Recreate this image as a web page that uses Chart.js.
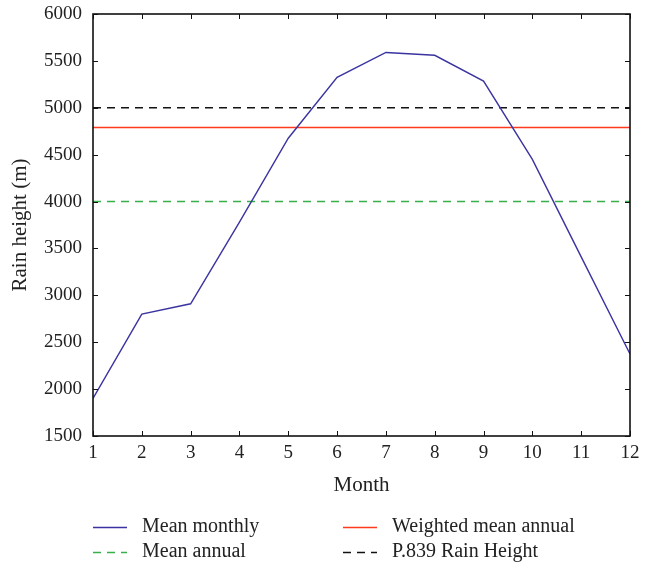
<!DOCTYPE html>
<html>
<head>
<meta charset="utf-8">
<script src="https://cdn.jsdelivr.net/npm/chart.js@4/dist/chart.umd.min.js"></script>
<style>
  html, body { margin: 0; padding: 0; background: #fff; }
  #wrap { width: 650px; height: 566px; position: relative; }
</style>
</head>
<body>
<div id="wrap"><canvas id="c" width="650" height="566"></canvas></div>
<script>
// Monthly rain height data
const months = [1, 2, 3, 4, 5, 6, 7, 8, 9, 10, 11, 12];
const meanMonthly = [1900, 2800, 2910, 3780, 4675, 5325, 5590, 5560, 5285, 4450, 3410, 2375];
const meanAnnual = [4000, 4000, 4000, 4000, 4000, 4000, 4000, 4000, 4000, 4000, 4000, 4000];
const weightedMeanAnnual = [4790, 4790, 4790, 4790, 4790, 4790, 4790, 4790, 4790, 4790, 4790, 4790];
const p839RainHeight = [5000, 5000, 5000, 5000, 5000, 5000, 5000, 5000, 5000, 5000, 5000, 5000];
const yTicks = [1500, 2000, 2500, 3000, 3500, 4000, 4500, 5000, 5500, 6000];
const seriesNames = ['Mean monthly', 'Weighted mean annual', 'Mean annual', 'P.839 Rain Height'];

const FONT = '"Liberation Serif", "DejaVu Serif", serif';
const toPts = (arr) => arr.map((v, i) => ({ x: months[i], y: v }));

// Box frame, inward ticks and two-column legend
const frame = {
  id: 'frame',
  afterDatasetsDraw(chart) {
    const { ctx, chartArea: a, scales: { x, y } } = chart;
    ctx.save();
    ctx.strokeStyle = '#111';
    ctx.lineWidth = 1.6;
    ctx.strokeRect(a.left, a.top, a.right - a.left, a.bottom - a.top);
    ctx.lineWidth = 1;
    const t = 5;
    ctx.beginPath();
    months.forEach(m => {
      const px = Math.round(x.getPixelForValue(m)) + 0.5;
      ctx.moveTo(px, a.bottom); ctx.lineTo(px, a.bottom - t);
      ctx.moveTo(px, a.top); ctx.lineTo(px, a.top + t);
    });
    yTicks.forEach(v => {
      const py = Math.round(y.getPixelForValue(v)) + 0.5;
      ctx.moveTo(a.left, py); ctx.lineTo(a.left + t, py);
      ctx.moveTo(a.right, py); ctx.lineTo(a.right - t, py);
    });
    ctx.stroke();
    ctx.restore();
  },
  afterDraw(chart) {
    const { ctx } = chart;
    const ds = chart.data.datasets;
    const spots = [
      { i: 0, x: 93, y: 527 },
      { i: 1, x: 343, y: 527 },
      { i: 2, x: 93, y: 552 },
      { i: 3, x: 343, y: 552 }
    ];
    ctx.save();
    ctx.font = '20px ' + FONT;
    ctx.textBaseline = 'middle';
    ctx.fillStyle = '#222';
    spots.forEach(s => {
      const d = ds[s.i];
      ctx.strokeStyle = d.borderColor;
      ctx.lineWidth = 1.5;
      ctx.setLineDash(d.borderDash || []);
      ctx.beginPath();
      ctx.moveTo(s.x, s.y + 0.5);
      ctx.lineTo(s.x + 34, s.y + 0.5);
      ctx.stroke();
      ctx.setLineDash([]);
      ctx.fillText(d.label, s.x + 49, s.y);
    });
    ctx.restore();
  }
};

new Chart(document.getElementById('c'), {
  type: 'line',
  data: {
    datasets: [
      { label: seriesNames[0], data: toPts(meanMonthly), borderColor: '#3a33a0', borderWidth: 1.4 },
      { label: seriesNames[1], data: toPts(weightedMeanAnnual), borderColor: '#ff3b1f', borderWidth: 1.5 },
      { label: seriesNames[2], data: toPts(meanAnnual), borderColor: '#36b04a', borderWidth: 1.5, borderDash: [8, 6] },
      { label: seriesNames[3], data: toPts(p839RainHeight), borderColor: '#111', borderWidth: 1.5, borderDash: [8, 6] }
    ]
  },
  options: {
    responsive: false,
    animation: false,
    events: [],
    layout: { padding: { top: 14, right: 20, bottom: 66, left: 0 } },
    elements: { point: { radius: 0 }, line: { tension: 0 } },
    plugins: { legend: { display: false }, tooltip: { enabled: false } },
    scales: {
      x: {
        type: 'linear', min: 1, max: 12,
        afterBuildTicks: (s) => { s.ticks = months.map(v => ({ value: v })); },
        ticks: { color: '#222', font: { family: FONT, size: 19 }, padding: 6, maxRotation: 0, autoSkip: false, callback: (v) => String(v) },
        grid: { display: false, drawTicks: false },
        border: { display: false },
        title: { display: true, text: 'Month', color: '#222', font: { family: FONT, size: 21 }, padding: { top: 4, bottom: 2 } },
        afterFit: (s) => { s.height = 64; s.paddingLeft = 0; s.paddingRight = 0; }
      },
      y: {
        type: 'linear', min: 1500, max: 6000,
        afterBuildTicks: (s) => { s.ticks = yTicks.map(v => ({ value: v })); },
        ticks: { color: '#222', font: { family: FONT, size: 19 }, padding: 11, callback: (v) => String(v) },
        grid: { display: false, drawTicks: false },
        border: { display: false },
        title: { display: true, text: 'Rain height (m)', color: '#222', font: { family: FONT, size: 21 }, padding: { top: 8, bottom: 4 } },
        afterFit: (s) => { s.width = 93; s.paddingTop = 0; s.paddingBottom = 0; }
      }
    }
  },
  plugins: [frame]
});
</script>
</body>
</html>
